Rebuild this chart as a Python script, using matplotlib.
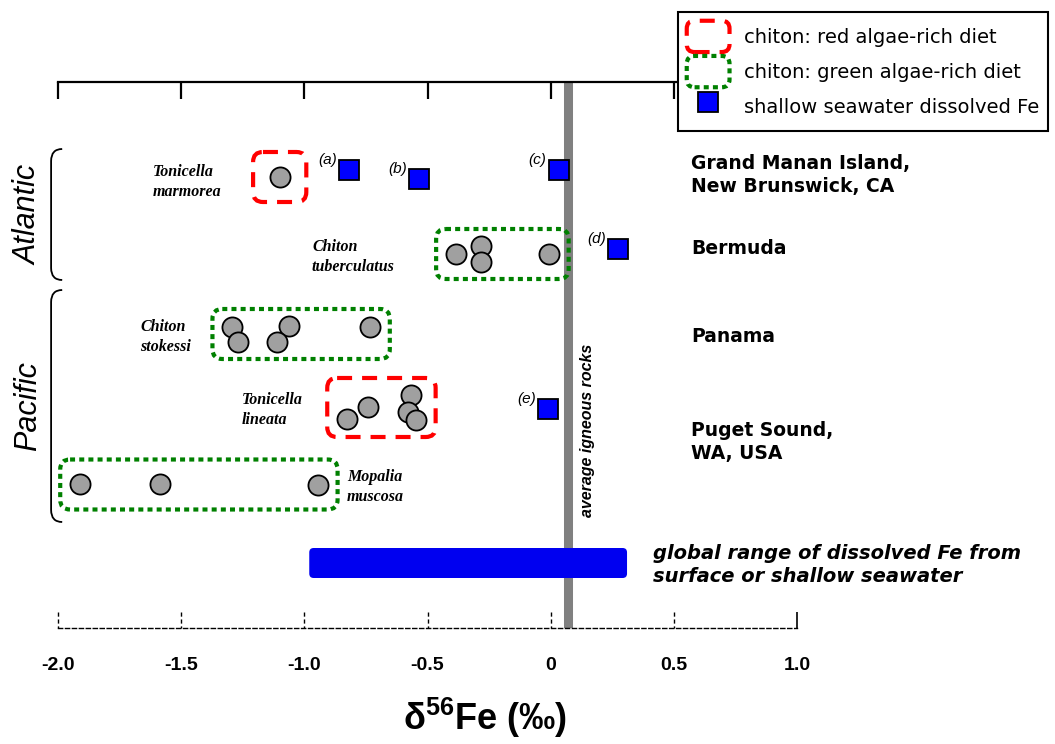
import matplotlib
matplotlib.use('Agg')
import matplotlib.pyplot as plt
from matplotlib.patches import FancyBboxPatch, Patch, PathPatch
from matplotlib.path import Path
from matplotlib.lines import Line2D
from matplotlib.legend_handler import HandlerPatch
from matplotlib import font_manager

# ---- data ----
xticks = [-2.0, -1.5, -1.0, -0.5, 0.0, 0.5, 1.0]
xtick_labels = ['-2.0', '-1.5', '-1.0', '-0.5', '0', '0.5', '1.0']

# chiton teeth d56Fe (x) and nominal vertical position (y, top = small)
marmorea_x = [-1.10]
marmorea_y = [177]
tuberculatus_x = [-0.385, -0.283, -0.283, -0.007]
tuberculatus_y = [254, 246, 262, 254]
stokessi_x = [-1.293, -1.270, -1.062, -1.110, -0.733]
stokessi_y = [327, 342, 326, 342, 327]
lineata_x = [-0.827, -0.741, -0.567, -0.580, -0.547]
lineata_y = [419, 407, 395, 412, 420]
muscosa_x = [-1.911, -1.586, -0.945]
muscosa_y = [484, 484, 485]

species_names = ['Tonicella\nmarmorea', 'Chiton\ntuberculatus', 'Chiton\nstokessi',
                 'Tonicella\nlineata', 'Mopalia\nmuscosa']
species_diet = ['red', 'green', 'green', 'red', 'green']
species_label_x = [-1.614, -0.969, -1.667, -1.253, -0.827]
species_label_y = [182, 257, 337, 410, 487]

# shallow seawater dissolved Fe
seawater_labels = ['(a)', '(b)', '(c)', '(d)', '(e)']
seawater_x = [-0.818, -0.533, 0.032, 0.275, -0.009]
seawater_y = [170, 179, 170, 249, 409]

localities = ['Grand Manan Island,\nNew Brunswick, CA', 'Bermuda', 'Panama', 'Puget Sound,\nWA, USA']
locality_y = [175, 248, 336, 442]

oceans = ['Atlantic', 'Pacific']
ocean_top = [149, 290]
ocean_bottom = [280, 522]

igneous_x = 0.07
global_range = (-0.98, 0.31)
global_range_y = (548, 578)

# ---- layout helpers ----
W, H = 1055, 744
PX_PER_UNIT = 739 / 3.0

names = [f.name for f in font_manager.fontManager.ttflist]
narrow = 'Liberation Sans Narrow' if 'Liberation Sans Narrow' in names else 'Liberation Sans'

plt.rcParams['mathtext.default'] = 'regular'

fig = plt.figure(figsize=(W / 100, H / 100), dpi=100)
ax = fig.add_axes([58 / W, (H - 628) / H, 739 / W, 546 / H])
ax.set_xlim(-2.0, 1.0)
ax.set_ylim(628, 82)

for s in ['left', 'right']:
    ax.spines[s].set_visible(False)
ax.spines['top'].set_linewidth(1.6)
ax.spines['bottom'].set_linewidth(1.0)
ax.spines['bottom'].set_linestyle((0, (3, 2)))
ax.set_yticks([])
ax.set_xticks(xticks)
ax.set_xticklabels(xtick_labels, fontfamily=narrow, fontweight='bold', fontsize=14)
ax.tick_params(axis='x', bottom=False, top=True, labelbottom=True, labeltop=False,
               direction='in', length=12, width=1.6, pad=21)
# dashed inward ticks on the bottom axis
ax.vlines(xticks[:-1], 612, 628, colors='k', linestyles=(0, (3, 2)), lw=1.0, clip_on=False)
ax.vlines(xticks[-1:], 612, 628, colors='k', lw=1.2, clip_on=False)

ax.set_xlabel('δ$^{56}$Fe (‰)', fontfamily=narrow, fontweight='bold', fontsize=26)
ax.xaxis.set_label_coords(0.578, -0.125)

# average igneous rocks
ax.axvline(igneous_x, color='#808080', lw=6.5, zorder=1)
ax.text(igneous_x + 0.078, 430, 'average igneous rocks', rotation=90, ha='center', va='center',
        fontfamily='Liberation Sans', fontweight='bold', fontstyle='italic', fontsize=11.5)

# global range bar
bar = FancyBboxPatch((global_range[0], global_range_y[0]), global_range[1] - global_range[0],
                     global_range_y[1] - global_range_y[0],
                     boxstyle='round,pad=0,rounding_size=0.018', mutation_aspect=PX_PER_UNIT,
                     facecolor='#0000f0', edgecolor='none', zorder=3)
ax.add_patch(bar)
ax.text(global_range[1] + 0.105, sum(global_range_y) / 2 + 2,
        'global range of dissolved Fe from\nsurface or shallow seawater',
        ha='left', va='center', fontfamily='DejaVu Sans', fontweight='bold', fontstyle='italic',
        fontsize=14, linespacing=1.3)

# diet boxes + chiton points
diet_style = {
    'red': dict(edgecolor='#ff0000', lw=3.0, linestyle=(0, (3.6, 2.4))),
    'green': dict(edgecolor='#008000', lw=3.0, linestyle=(0, (1.2, 1.0))),
}
groups = [(marmorea_x, marmorea_y), (tuberculatus_x, tuberculatus_y), (stokessi_x, stokessi_y),
          (lineata_x, lineata_y), (muscosa_x, muscosa_y)]
for (gx, gy), diet, name, lx, ly in zip(groups, species_diet, species_names,
                                         species_label_x, species_label_y):
    x0, x1 = min(gx) - 0.08, max(gx) + 0.08
    if x1 - x0 < 0.216:
        c = (min(gx) + max(gx)) / 2
        x0, x1 = c - 0.108, c + 0.108
    half = max(25, (max(gy) - min(gy)) / 2 + 17)
    yc = (max(gy) + min(gy)) / 2
    box = FancyBboxPatch((x0, yc - half), x1 - x0, 2 * half,
                         boxstyle='round,pad=0,rounding_size=0.04', mutation_aspect=PX_PER_UNIT,
                         facecolor='none', zorder=2, **diet_style[diet])
    ax.add_patch(box)
    ax.plot(gx, gy, 'o', ms=14.5, mfc='#a0a0a0', mec='k', mew=1.3, ls='none', zorder=4)
    ax.text(lx, ly, name, ha='left', va='center', fontfamily='Liberation Serif',
            fontweight='bold', fontstyle='italic', fontsize=11.5, linespacing=1.3)

# seawater squares
ax.plot(seawater_x, seawater_y, 's', ms=14.5, mfc='#0000ff', mec='k', mew=1.3, ls='none', zorder=5)
for lab, sx, sy in zip(seawater_labels, seawater_x, seawater_y):
    ax.annotate(lab, (sx, sy), xytext=(-9, 7), textcoords='offset points', ha='right', va='center',
                fontfamily='Liberation Sans', fontstyle='italic', fontsize=11)

# locality names on the right
for name, ly in zip(localities, locality_y):
    ax.text(0.57, ly, name, ha='left', va='center', fontfamily='DejaVu Sans', fontweight='bold',
            fontsize=13.5, linespacing=1.3)

# ocean braces
x_line, x_end, r = -2.028, -1.983, 12
for name, top, bot in zip(oceans, ocean_top, ocean_bottom):
    verts = [(x_end, top), (x_line, top), (x_line, top + r), (x_line, bot - r),
             (x_line, bot), (x_end, bot)]
    codes = [Path.MOVETO, Path.CURVE3, Path.CURVE3, Path.LINETO, Path.CURVE3, Path.CURVE3]
    ax.add_patch(PathPatch(Path(verts, codes), fill=False, lw=1.3, edgecolor='k', clip_on=False))
    ax.text(-2.12, (top + bot) / 2, name, rotation=90, ha='center', va='center',
            fontfamily='Liberation Sans', fontstyle='italic', fontsize=22)


# legend with rounded-box handles
class HandlerRoundBox(HandlerPatch):
    def create_artists(self, legend, orig_handle, xdescent, ydescent, width, height, fontsize, trans):
        p = FancyBboxPatch((-xdescent, -ydescent), width, height,
                           boxstyle='round,pad=0,rounding_size=%f' % (0.25 * height))
        self.update_prop(p, orig_handle, legend)
        p.set_transform(trans)
        return [p]


red_h = Patch(facecolor='none', **diet_style['red'])
green_h = Patch(facecolor='none', **diet_style['green'])
sq_h = Line2D([], [], ls='none', marker='s', ms=14.5, mfc='#0000ff', mec='k', mew=1.3)
leg = fig.legend([red_h, green_h, sq_h],
                 ['chiton: red algae-rich diet', 'chiton: green algae-rich diet',
                  'shallow seawater dissolved Fe'],
                 handler_map={Patch: HandlerRoundBox()}, loc='upper left',
                 bbox_to_anchor=(678 / W, 1 - 12 / H), bbox_transform=fig.transFigure,
                 prop={'family': 'DejaVu Sans', 'size': 14}, frameon=True, fancybox=False,
                 edgecolor='k', framealpha=1, borderpad=0.45, handlelength=2.2,
                 handleheight=2.1, handletextpad=0.75, labelspacing=0.2, borderaxespad=0)
leg.get_frame().set_linewidth(1.5)

fig.savefig('out.png', dpi=100)
